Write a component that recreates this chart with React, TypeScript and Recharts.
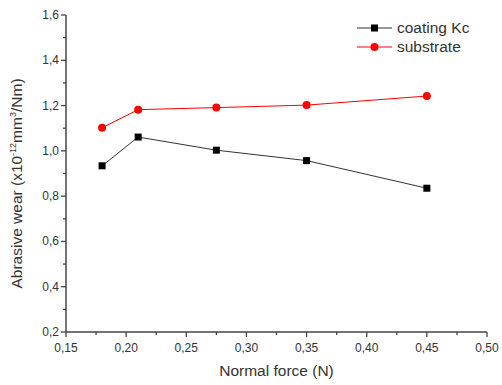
import React from 'react';
import { LineChart, Line, XAxis, YAxis, Legend } from 'recharts';

const forces = [0.18, 0.21, 0.275, 0.35, 0.45];
const coatingKc = [0.934, 1.061, 1.003, 0.957, 0.835];
const substrate = [1.102, 1.182, 1.191, 1.202, 1.242];
const xTicks = [0.15, 0.175, 0.2, 0.225, 0.25, 0.275, 0.3, 0.325, 0.35, 0.375, 0.4, 0.425, 0.45, 0.475, 0.5];
const yTicks = [0.2, 0.3, 0.4, 0.5, 0.6, 0.7, 0.8, 0.9, 1.0, 1.1, 1.2, 1.3, 1.4, 1.5, 1.6];

const data = forces.map((f, i) => ({ f, coating: coatingKc[i], substrate: substrate[i] }));

const AXIS = '#444';
const TEXT = '#333';
const FONT = 'Liberation Sans, Arial, sans-serif';

const XTick = (props: any) => {
  const { x, y, payload } = props;
  const v = payload.value;
  const major = Math.round(v * 1000) % 50 === 0;
  return (
    <g>
      <line x1={x} x2={x} y1={y} y2={y + (major ? 5 : 3)} stroke={AXIS} strokeWidth={1.3} />
      {major && (
        <text x={x} y={y + 20} textAnchor="middle" fontSize={12} fill={TEXT} fontFamily={FONT}>
          {v.toFixed(2).replace('.', ',')}
        </text>
      )}
    </g>
  );
};

const YTick = (props: any) => {
  const { x, y, payload } = props;
  const v = payload.value;
  const major = Math.round(v * 10) % 2 === 0;
  return (
    <g>
      <line x1={x} x2={x - (major ? 5 : 3)} y1={y} y2={y} stroke={AXIS} strokeWidth={1.3} />
      {major && (
        <text x={x - 7} y={y + 4} textAnchor="end" fontSize={12} fill={TEXT} fontFamily={FONT}>
          {v.toFixed(1).replace('.', ',')}
        </text>
      )}
    </g>
  );
};

const SquareDot = (props: any) => {
  const { cx, cy } = props;
  if (cx == null || cy == null) return null;
  return <rect x={cx - 3.5} y={cy - 3.5} width={7} height={7} fill="#000" />;
};

const CircleDot = (props: any) => {
  const { cx, cy } = props;
  if (cx == null || cy == null) return null;
  return <circle cx={cx} cy={cy} r={4} fill="#ff0000" />;
};

const YLabel = (props: any) => {
  const vb = props.viewBox || { x: 0, y: 15, width: 66, height: 317 };
  const cx = 22;
  const cy = vb.y + vb.height / 2 + 10;
  return (
    <text
      x={cx}
      y={cy}
      transform={`rotate(-90, ${cx}, ${cy})`}
      textAnchor="middle"
      fontSize={15.5}
      fill={TEXT}
      fontFamily={FONT}
    >
      <tspan>Abrasive wear (x10</tspan>
      <tspan fontSize={9} dy={-6}>-12</tspan>
      <tspan dy={6}>mm</tspan>
      <tspan fontSize={9} dy={-6}>3</tspan>
      <tspan dy={6}>/Nm)</tspan>
    </text>
  );
};

const LegendContent = (props: any) => {
  const { payload } = props;
  return (
    <div>
      {(payload || []).map((p: any, i: number) => (
        <div key={i} style={{ display: 'flex', alignItems: 'center', height: 18.5 }}>
          <svg width={40} height={18}>
            <line x1={0} x2={35} y1={9} y2={9} stroke={p.color} strokeWidth={1} />
            {p.dataKey === 'coating' ? (
              <rect x={14} y={5.5} width={7} height={7} fill="#000" />
            ) : (
              <circle cx={17.5} cy={9} r={4} fill="#ff0000" />
            )}
          </svg>
          <span style={{ fontFamily: FONT, fontSize: 15.5, color: TEXT, lineHeight: '18px' }}>{p.value}</span>
        </div>
      ))}
    </div>
  );
};

export default function App() {
  return (
    <div style={{ position: 'absolute', left: 0, top: 0, background: '#fff' }}>
      <LineChart width={502} height={385} data={data} margin={{ top: 15, right: 15, left: 0, bottom: 0 }}>
        <XAxis
          dataKey="f"
          type="number"
          domain={[0.15, 0.5]}
          ticks={xTicks}
          interval={0}
          tick={<XTick />}
          tickLine={false}
          tickSize={0}
          tickMargin={0}
          axisLine={{ stroke: AXIS, strokeWidth: 1.5 }}
          height={53}
          label={{ value: 'Normal force (N)', position: 'insideBottom', offset: 9, fontSize: 15.5, fill: TEXT, fontFamily: FONT }}
        />
        <XAxis
          xAxisId="top"
          orientation="top"
          dataKey="f"
          type="number"
          domain={[0.15, 0.5]}
          tick={false}
          tickLine={false}
          height={0}
          axisLine={{ stroke: '#666', strokeWidth: 1.5 }}
        />
        <YAxis
          type="number"
          domain={[0.2, 1.6]}
          ticks={yTicks}
          interval={0}
          tick={<YTick />}
          tickLine={false}
          tickSize={0}
          tickMargin={0}
          axisLine={{ stroke: AXIS, strokeWidth: 1.5 }}
          width={66}
          label={<YLabel />}
        />
        <YAxis
          yAxisId="right"
          orientation="right"
          type="number"
          domain={[0.2, 1.6]}
          tick={false}
          tickLine={false}
          width={0}
          axisLine={{ stroke: '#666', strokeWidth: 1.5 }}
        />
        <Legend
          layout="vertical"
          align="center"
          verticalAlign="middle"
          wrapperStyle={{ left: 357, top: 19, width: 140 }}
          content={<LegendContent />}
        />
        <Line
          dataKey="coating"
          name="coating Kc"
          stroke="#333"
          strokeWidth={1}
          dot={<SquareDot />}
          activeDot={false}
          isAnimationActive={false}
        />
        <Line
          dataKey="substrate"
          name="substrate"
          stroke="#ff0000"
          strokeWidth={1}
          dot={<CircleDot />}
          activeDot={false}
          isAnimationActive={false}
        />
      </LineChart>
    </div>
  );
}
